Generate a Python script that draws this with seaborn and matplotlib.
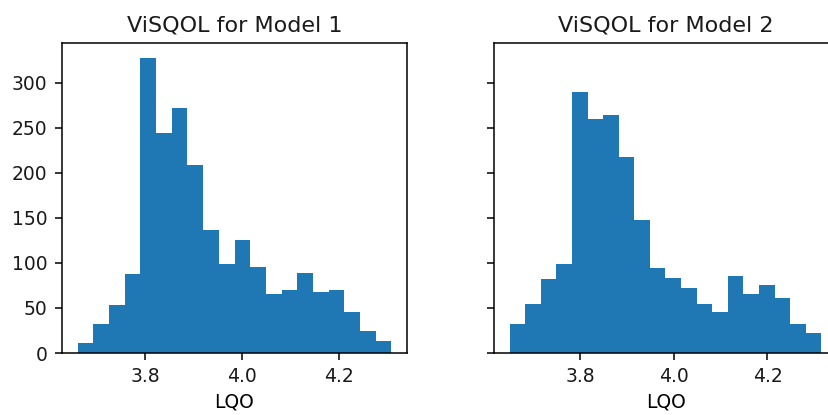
import numpy as np
import pandas as pd
import matplotlib
matplotlib.use("Agg")
import matplotlib.pyplot as plt
import seaborn as sns

titles = ["ViSQOL for Model 1", "ViSQOL for Model 2"]
xlabel = "LQO"

# histogram range (LQO) and bin counts
m1_range = [3.661, 4.309]
m1_counts = [11, 32, 53, 88, 328, 244, 272, 209, 137, 99, 126, 95, 65, 70, 89, 68, 70, 46, 24, 13]
m2_range = [3.6485, 4.3153]
m2_counts = [32, 54, 82, 99, 290, 260, 264, 218, 148, 94, 83, 72, 54, 46, 86, 65, 76, 61, 32, 22]

xticks = [3.8, 4.0, 4.2]
yticks = [0, 50, 100, 150, 200, 250, 300]

plt.rcParams.update({
    "axes.linewidth": 1.1,
    "xtick.major.size": 5, "ytick.major.size": 5,
    "xtick.major.width": 1.1, "ytick.major.width": 1.1,
    "xtick.major.pad": 5, "ytick.major.pad": 5.5,
    "xtick.labelsize": 13.5, "ytick.labelsize": 13.5,
    "text.color": "#1a1a1a", "xtick.labelcolor": "#1a1a1a", "ytick.labelcolor": "#1a1a1a",
})

fig = plt.figure(figsize=(8.29, 4.15), dpi=100)
W, H = 829, 415
ax1 = fig.add_axes([62 / W, (H - 353) / H, 345 / W, 310 / H])
ax2 = fig.add_axes([494 / W, (H - 353) / H, 343 / W, 310 / H], sharey=ax1)

for ax, rng, counts, title in [(ax1, m1_range, m1_counts, titles[0]),
                                (ax2, m2_range, m2_counts, titles[1])]:
    n = len(counts)
    width = (rng[1] - rng[0]) / n
    centers = rng[0] + width * (np.arange(n) + 0.5)
    df = pd.DataFrame({"LQO": centers, "count": counts})
    sns.histplot(data=df, x="LQO", weights="count", bins=n,
                 binrange=(rng[0], rng[1]), ax=ax, element="step", fill=True,
                 color="#1f77b4", alpha=1, linewidth=0)
    ax.set_title(title, fontsize=16, pad=8)
    ax.set_xlabel(xlabel, fontsize=13.5, labelpad=5)
    ax.set_ylabel("")
    ax.set_xticks(xticks)
    ax.set_xlim(rng[0] - width, rng[1] + width)

ax1.set_yticks(yticks)
ax1.set_ylim(0, max(max(m1_counts), max(m2_counts)) * 1.05)
ax2.tick_params(axis="y", labelleft=False)

fig.savefig("out.png", dpi=100)
